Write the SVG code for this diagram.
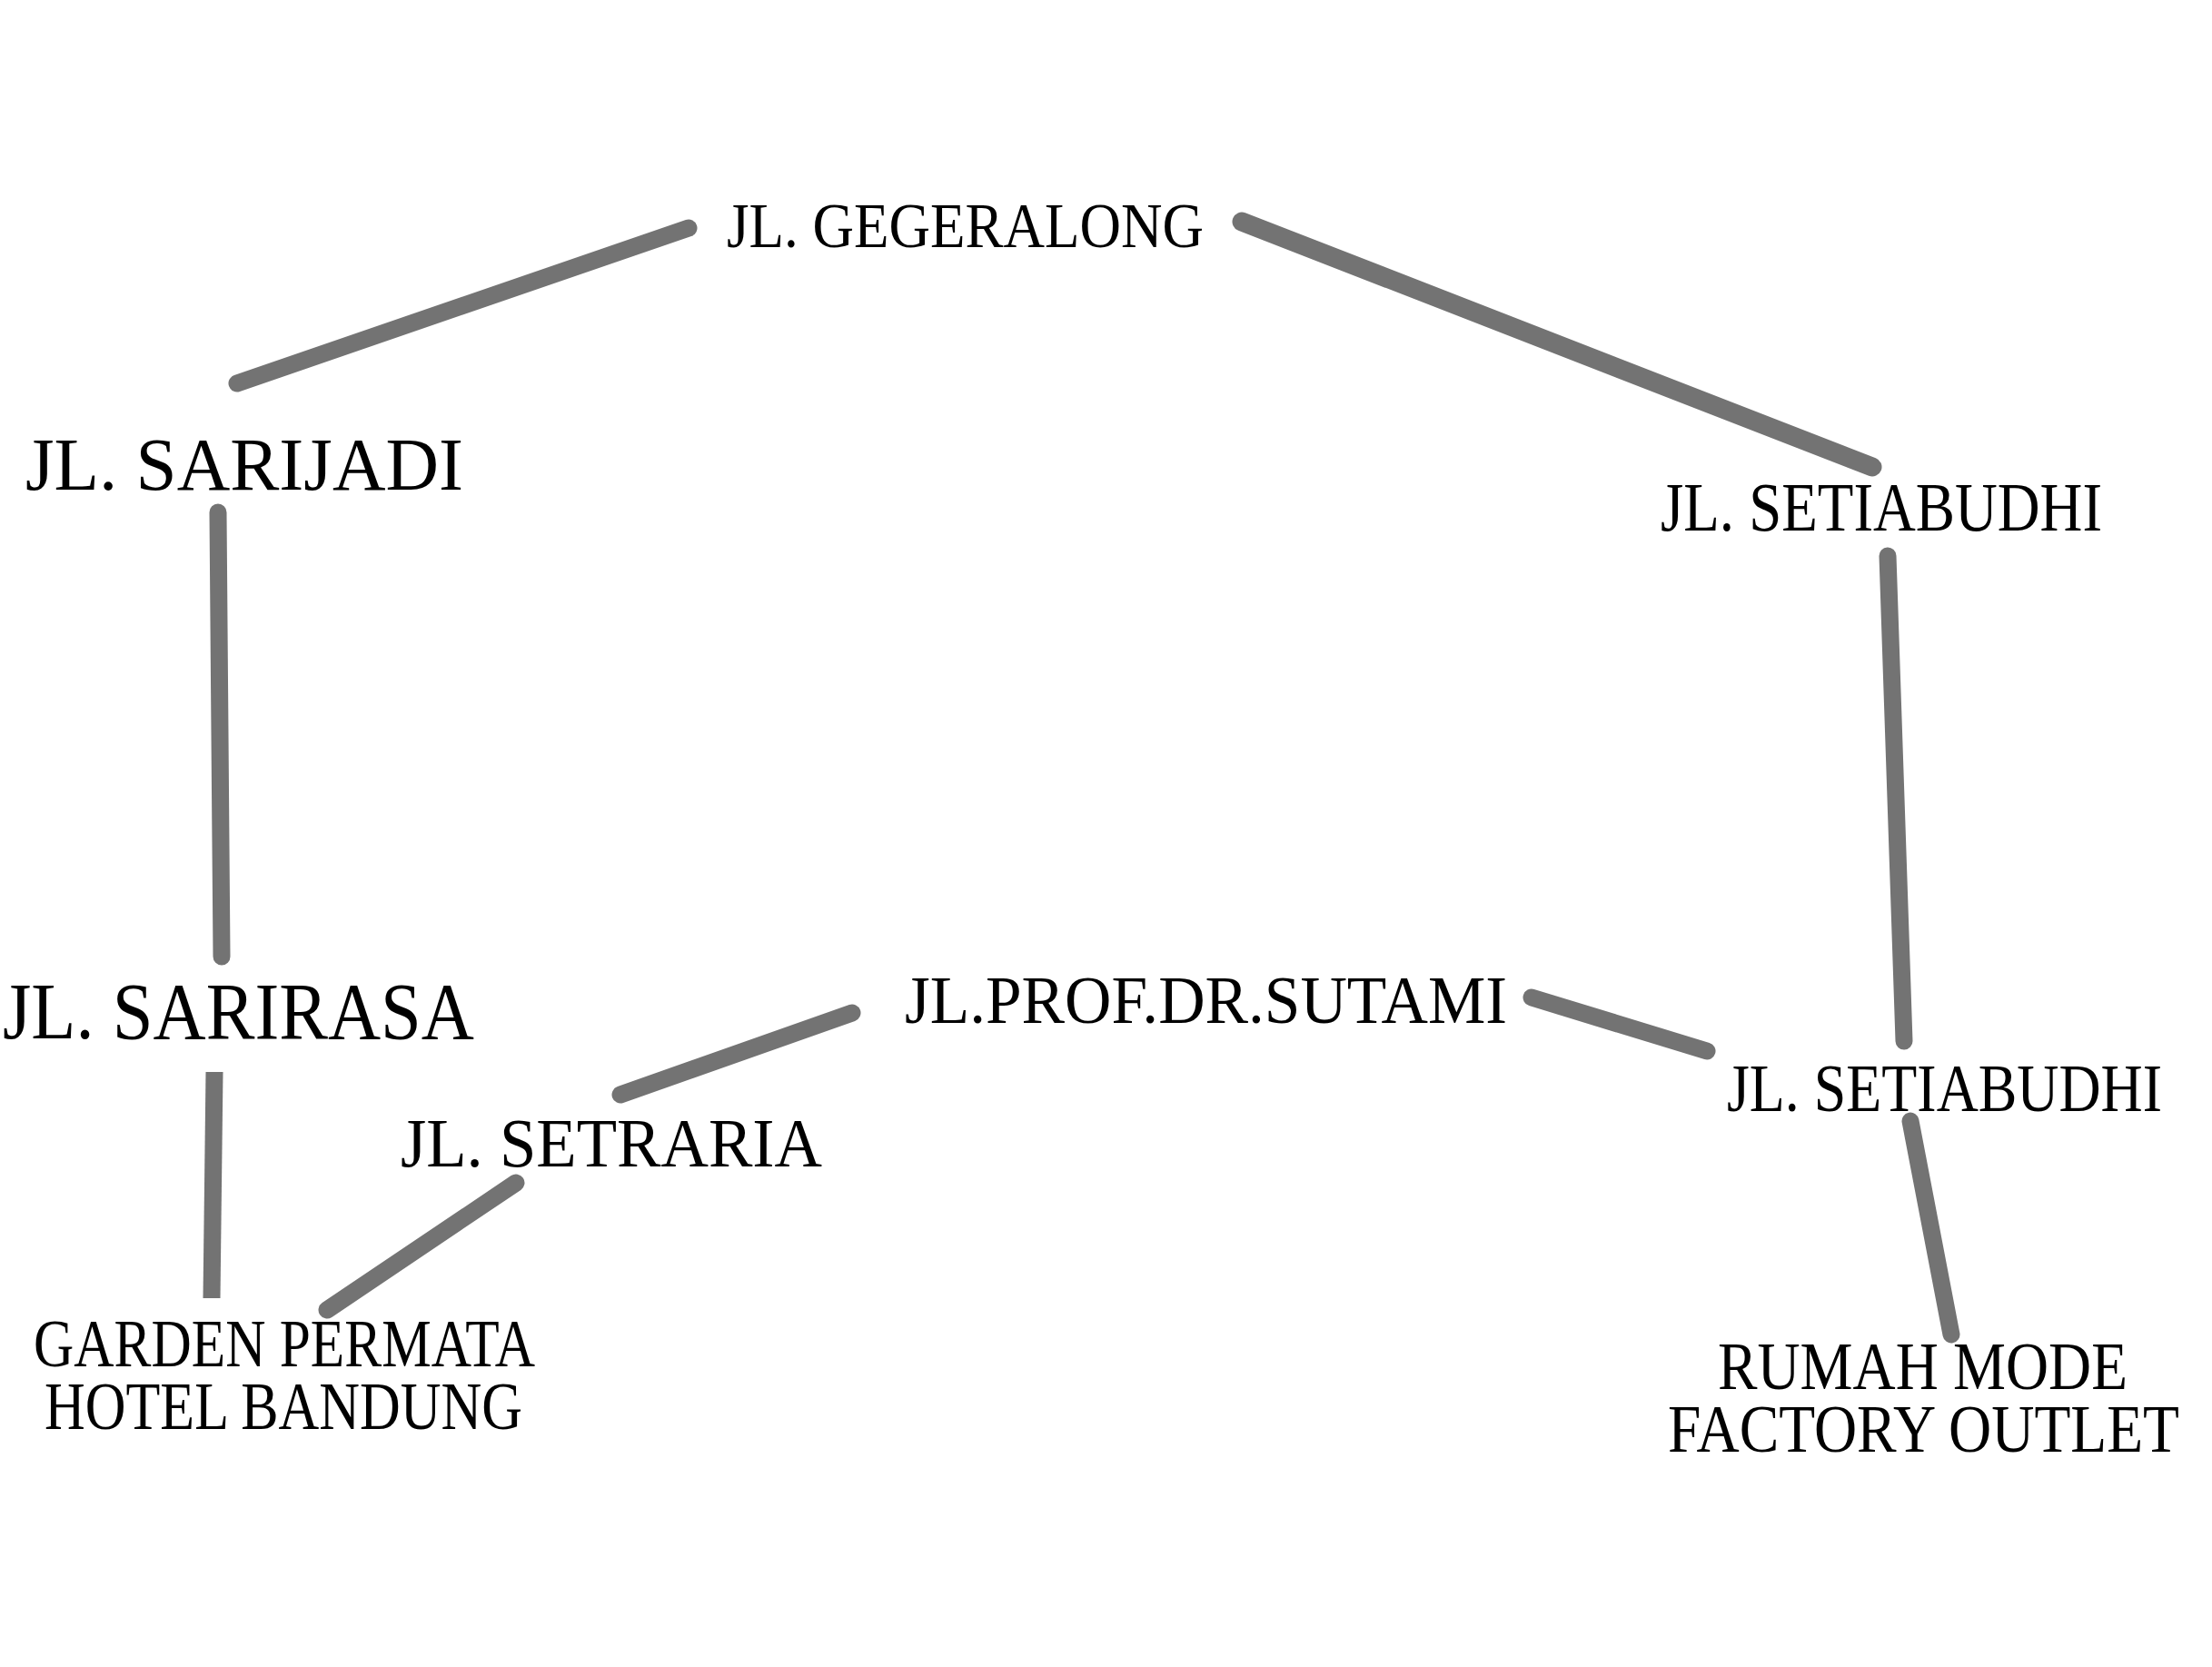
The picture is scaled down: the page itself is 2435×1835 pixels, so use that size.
<svg xmlns="http://www.w3.org/2000/svg" width="2435" height="1835" viewBox="0 0 2435 1835">
<style>
.e{stroke:#737373;stroke-width:19;stroke-linecap:round;fill:none}
text{font-family:"Liberation Serif","Times New Roman",serif;fill:#000}
</style>
<rect width="2435" height="1835" fill="#fff"/>
<g id="connectors">
<line class="e" x1="261" y1="422" x2="758" y2="251"/>
<line class="e" x1="1367" y1="244" x2="2061" y2="514" style="stroke-width:21"/>
<line class="e" x1="240" y1="564" x2="244" y2="1053"/>
<line class="e" x1="2078" y1="612" x2="2096" y2="1146"/>
<line class="e" x1="236" y1="1180" x2="233" y2="1429" style="stroke-linecap:butt"/>
<line class="e" x1="568" y1="1302" x2="360" y2="1442"/>
<line class="e" x1="683" y1="1205" x2="938" y2="1115"/>
<line class="e" x1="1686" y1="1098" x2="1879" y2="1157"/>
<line class="e" x1="2103" y1="1234" x2="2148" y2="1469"/>
</g>
<g id="n-gegeralong"><text x="800" y="272" font-size="69" textLength="525" lengthAdjust="spacingAndGlyphs">JL. GEGERALONG</text></g>
<g id="n-sarijadi"><text x="28" y="539" font-size="82" textLength="482" lengthAdjust="spacingAndGlyphs">JL. SARIJADI</text></g>
<g id="n-setiabudhi1"><text x="1828" y="584" font-size="77" textLength="486" lengthAdjust="spacingAndGlyphs">JL. SETIABUDHI</text></g>
<g id="n-sarirasa"><text x="3" y="1143" font-size="89" textLength="519" lengthAdjust="spacingAndGlyphs">JL. SARIRASA</text></g>
<g id="n-sutami"><text x="996" y="1126" font-size="73" textLength="663" lengthAdjust="spacingAndGlyphs">JL.PROF.DR.SUTAMI</text></g>
<g id="n-setraria"><text x="441" y="1284" font-size="77" textLength="464" lengthAdjust="spacingAndGlyphs">JL. SETRARIA</text></g>
<g id="n-setiabudhi2"><text x="1901" y="1223" font-size="75" textLength="479" lengthAdjust="spacingAndGlyphs">JL. SETIABUDHI</text></g>
<g id="n-garden"><text x="37" y="1504" font-size="74" textLength="552" lengthAdjust="spacingAndGlyphs">GARDEN PERMATA</text><text x="49" y="1573" font-size="74" textLength="526" lengthAdjust="spacingAndGlyphs">HOTEL BANDUNG</text></g>
<g id="n-rumah"><text x="1891" y="1529" font-size="74" textLength="451" lengthAdjust="spacingAndGlyphs">RUMAH MODE</text><text x="1836" y="1598" font-size="74" textLength="563" lengthAdjust="spacingAndGlyphs">FACTORY OUTLET</text></g>
</svg>
